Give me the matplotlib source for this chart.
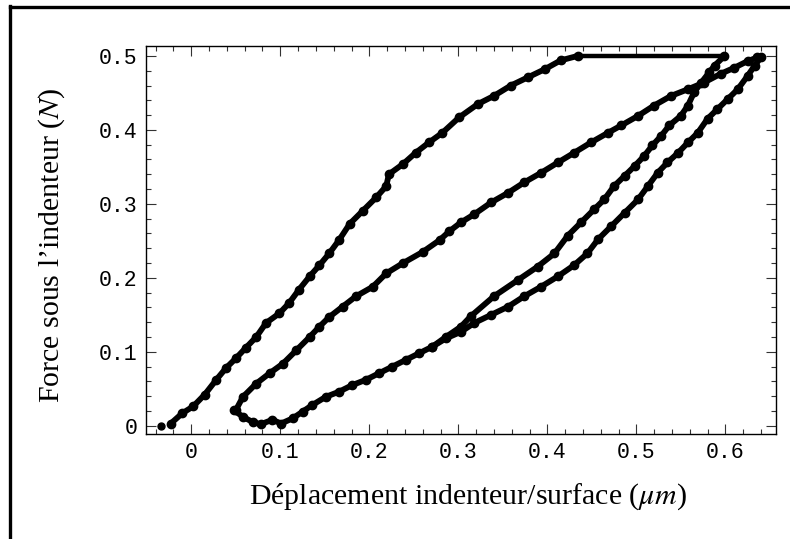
import matplotlib
matplotlib.use("Agg")
import matplotlib.pyplot as plt
from matplotlib.lines import Line2D
from matplotlib.ticker import MultipleLocator

plt.rcParams['mathtext.fontset'] = 'stix'

# first isolated point
start_x = [-0.034]
start_y = [0.0]

# first loading branch
load_x = [-0.023, -0.010, 0.002, 0.015, 0.028, 0.039, 0.050, 0.061, 0.073, 0.084,
          0.099, 0.110, 0.121, 0.133, 0.144, 0.155, 0.166, 0.178, 0.193, 0.208,
          0.219, 0.222, 0.238, 0.252, 0.267, 0.282, 0.301, 0.322, 0.340, 0.359,
          0.378, 0.397, 0.415, 0.434]
load_y = [0.003, 0.017, 0.026, 0.042, 0.062, 0.078, 0.091, 0.105, 0.120, 0.139,
          0.152, 0.166, 0.184, 0.202, 0.217, 0.233, 0.251, 0.273, 0.291, 0.309,
          0.324, 0.340, 0.354, 0.369, 0.383, 0.396, 0.417, 0.435, 0.446, 0.460,
          0.471, 0.482, 0.494, 0.500]

# hold at max force
hold_x = [0.434, 0.601]
hold_y = [0.5, 0.5]

# first unloading
unload1_x = [0.599, 0.588, 0.582, 0.573, 0.565, 0.558, 0.550, 0.537, 0.528, 0.518,
             0.509, 0.498, 0.487, 0.475, 0.464, 0.453, 0.438, 0.423, 0.408, 0.389,
             0.367, 0.340, 0.314, 0.303, 0.286, 0.271, 0.256, 0.241,
             0.226, 0.211, 0.196, 0.181, 0.166, 0.151, 0.136, 0.125, 0.114, 0.101,
             0.091, 0.078, 0.069, 0.058, 0.048]
unload1_y = [0.500, 0.487, 0.478, 0.464, 0.451, 0.433, 0.419, 0.406, 0.392, 0.379,
             0.365, 0.351, 0.338, 0.324, 0.306, 0.293, 0.275, 0.257, 0.233, 0.215,
             0.197, 0.175, 0.148, 0.134, 0.120, 0.107, 0.098, 0.089,
             0.080, 0.071, 0.062, 0.055, 0.046, 0.039, 0.028, 0.019, 0.010, 0.003,
             0.008, 0.002, 0.005, 0.012, 0.021]

# reloading
reload_x = [0.050, 0.058, 0.073, 0.088, 0.103, 0.118, 0.133, 0.144, 0.155, 0.170,
            0.185, 0.204, 0.219, 0.238, 0.260, 0.279, 0.290, 0.303, 0.318, 0.337,
            0.356, 0.374, 0.393, 0.412, 0.430, 0.449, 0.468, 0.483, 0.502, 0.520,
            0.539, 0.558, 0.576, 0.595, 0.610, 0.625, 0.636]
reload_y = [0.021, 0.039, 0.057, 0.071, 0.084, 0.102, 0.120, 0.134, 0.147, 0.161,
            0.175, 0.188, 0.206, 0.220, 0.235, 0.251, 0.263, 0.275, 0.286, 0.302,
            0.315, 0.329, 0.342, 0.356, 0.369, 0.383, 0.396, 0.406, 0.419, 0.433,
            0.446, 0.455, 0.464, 0.476, 0.484, 0.493, 0.498]

# second unloading
unload2_x = [0.640, 0.633, 0.625, 0.614, 0.603, 0.591, 0.580, 0.569, 0.558, 0.547,
             0.535, 0.524, 0.513, 0.502, 0.487, 0.472, 0.457, 0.445, 0.430, 0.412,
             0.393, 0.374, 0.356, 0.337, 0.318, 0.303, 0.286, 0.271]
unload2_y = [0.498, 0.487, 0.473, 0.455, 0.442, 0.428, 0.415, 0.396, 0.383, 0.369,
             0.356, 0.342, 0.324, 0.306, 0.288, 0.270, 0.252, 0.233, 0.217, 0.202,
             0.188, 0.175, 0.161, 0.150, 0.139, 0.127, 0.118, 0.107]

fig = plt.figure(figsize=(7.9, 5.39), dpi=100)
ax = fig.add_axes([0.1848, 0.1948, 0.7971, 0.7199])

ax.plot(start_x, start_y, 'o', color='black', ms=5)
ax.plot(hold_x, hold_y, '-', color='black', lw=3.2, solid_capstyle='round')
for xs, ys in [(load_x, load_y), (unload1_x, unload1_y),
               (reload_x, reload_y), (unload2_x, unload2_y)]:
    ax.plot(xs, ys, '-o', color='black', lw=4.2, ms=6,
            solid_capstyle='round', solid_joinstyle='round')

ax.set_xlim(-0.0509, 0.6566)
ax.set_ylim(-0.0112, 0.5135)

ax.xaxis.set_major_locator(MultipleLocator(0.1))
ax.xaxis.set_minor_locator(MultipleLocator(0.02))
ax.yaxis.set_major_locator(MultipleLocator(0.1))
ax.yaxis.set_minor_locator(MultipleLocator(0.02))

def fmt(v, pos):
    if abs(v) < 1e-9:
        return "0"
    return "%.1f" % v

ax.xaxis.set_major_formatter(plt.FuncFormatter(fmt))
ax.yaxis.set_major_formatter(plt.FuncFormatter(fmt))

ax.tick_params(which='both', direction='in', top=True, right=True, width=0.8, color='#333333')
ax.tick_params(which='major', length=7, pad=6)
ax.tick_params(which='minor', length=3.5)
for lab in ax.get_xticklabels() + ax.get_yticklabels():
    lab.set_fontfamily('Liberation Mono')
    lab.set_fontsize(15.5)

for sp in ax.spines.values():
    sp.set_linewidth(1.0)

ax.set_xlabel("Déplacement indenteur/surface ($\\mu m$)", fontfamily='Liberation Serif',
              fontsize=21.5, va='baseline')
ax.xaxis.set_label_coords(0.511, -0.180)
ax.set_ylabel("Force sous l’indenteur ($N$)", fontfamily='Liberation Serif',
              fontsize=21.5, va='center')
ax.yaxis.set_label_coords(-0.150, 0.486)

# frame lines on top and left of the figure
fig.add_artist(Line2D([9.7 / 790, 1.0], [1 - 7.3 / 539, 1 - 7.3 / 539],
                      color='black', lw=2.4, transform=fig.transFigure))
fig.add_artist(Line2D([9.7 / 790, 9.7 / 790], [0.0, 1 - 6 / 539],
                      color='black', lw=2.4, transform=fig.transFigure))

fig.savefig("out.png", dpi=100)
